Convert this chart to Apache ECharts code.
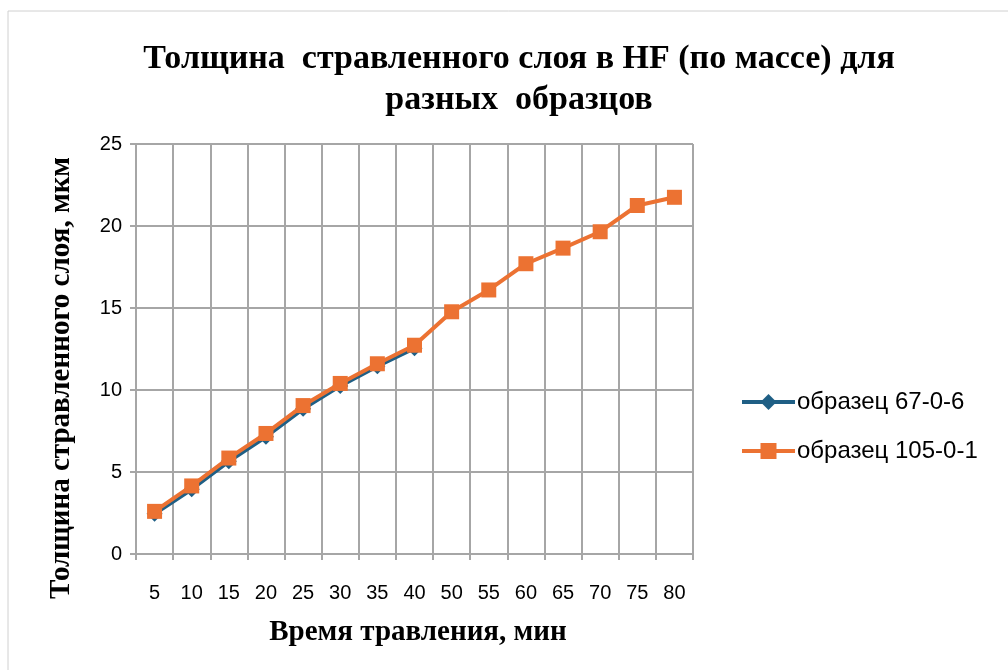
<!DOCTYPE html>
<html>
<head>
<meta charset="utf-8">
<style>
  html, body { margin: 0; padding: 0; background: #ffffff; }
  #chart { width: 1008px; height: 670px; }
</style>
<script src="https://cdn.jsdelivr.net/npm/echarts@6/dist/echarts.min.js"></script>
</head>
<body>
<div id="chart"></div>
<script>
// Etching time, minutes
const times = ['5', '10', '15', '20', '25', '30', '35', '40', '50', '55', '60', '65', '70', '75', '80'];
// Etched layer thickness, µm
const sample67 = [2.45, 3.95, 5.65, 7.15, 8.85, 10.25, 11.45, 12.55];
const sample105 = [2.6, 4.15, 5.85, 7.35, 9.05, 10.4, 11.6, 12.73, 14.77, 16.1, 17.7, 18.65, 19.65, 21.25, 21.75];
const yTicks = { min: 0, max: 25, interval: 5 };

const titleText = 'Толщина  стравленного слоя в HF (по массе) для\nразных  образцов';
const xTitle = 'Время травления, мин';
const yTitle = 'Толщина стравленного слоя, мкм';
const seriesNames = ['образец 67-0-6', 'образец 105-0-1'];

const gridColor = '#a6a6a6';
const blue = '#1f5f85';
const orange = '#ec7232';
const serifBold = { fontFamily: 'Liberation Serif', fontWeight: 'bold', fill: '#000000' };

const chart = echarts.init(document.getElementById('chart'), null, { renderer: 'canvas' });

chart.setOption({
  backgroundColor: '#ffffff',
  animation: false,
  graphic: [
    {
      type: 'rect',
      shape: { x: 8, y: 11, width: 1010, height: 670 },
      style: { fill: 'none', stroke: '#d0d0d0', lineWidth: 1 },
      silent: true
    },
    {
      // vertical axis title
      type: 'text',
      x: 62,
      y: 378,
      rotation: Math.PI / 2,
      style: Object.assign({
        text: yTitle,
        fontSize: 29,
        align: 'center',
        verticalAlign: 'middle'
      }, serifBold),
      silent: true
    },
    {
      // horizontal axis title
      type: 'text',
      x: 418,
      y: 633,
      style: Object.assign({
        text: xTitle,
        fontSize: 29,
        align: 'center',
        verticalAlign: 'middle'
      }, serifBold),
      silent: true
    }
  ],
  title: {
    text: titleText,
    left: 514,
    textAlign: 'center',
    top: 34,
    textStyle: {
      fontFamily: 'Liberation Serif',
      fontWeight: 'bold',
      fontSize: 34,
      lineHeight: 41,
      color: '#000000'
    }
  },
  legend: {
    orient: 'vertical',
    left: 735,
    top: 385,
    itemWidth: 53,
    itemHeight: 20,
    itemGap: 25,
    data: seriesNames,
    lineStyle: { width: 4 },
    textStyle: {
      fontFamily: 'Liberation Sans',
      fontSize: 24,
      color: '#000000',
      padding: [0, 0, 0, -3]
    }
  },
  grid: {
    left: 136,
    right: 315,
    top: 144,
    bottom: 116,
    containLabel: false
  },
  xAxis: {
    type: 'category',
    data: times,
    boundaryGap: true,
    axisLine: { show: true, lineStyle: { color: gridColor, width: 2 } },
    axisTick: { show: true, length: 6, lineStyle: { color: gridColor, width: 2 } },
    axisLabel: {
      interval: 0,
      margin: 29,
      fontFamily: 'Liberation Sans',
      fontSize: 20,
      color: '#000000'
    },
    splitLine: { show: true, interval: 0, lineStyle: { color: gridColor, width: 2 } }
  },
  yAxis: {
    type: 'value',
    min: yTicks.min,
    max: yTicks.max,
    interval: yTicks.interval,
    axisLine: { show: true, lineStyle: { color: gridColor, width: 2 } },
    axisTick: { show: true, length: 6, lineStyle: { color: gridColor, width: 2 } },
    axisLabel: {
      margin: 14,
      fontFamily: 'Liberation Sans',
      fontSize: 20,
      color: '#000000'
    },
    splitLine: { show: true, lineStyle: { color: gridColor, width: 2 } }
  },
  series: [
    {
      name: seriesNames[0],
      type: 'line',
      data: sample67,
      symbol: 'diamond',
      symbolSize: 16,
      itemStyle: { color: blue },
      lineStyle: { color: blue, width: 4 },
      z: 2
    },
    {
      name: seriesNames[1],
      type: 'line',
      data: sample105,
      symbol: 'rect',
      symbolSize: 15,
      itemStyle: { color: orange },
      lineStyle: { color: orange, width: 4 },
      z: 3
    }
  ]
});
</script>
</body>
</html>
